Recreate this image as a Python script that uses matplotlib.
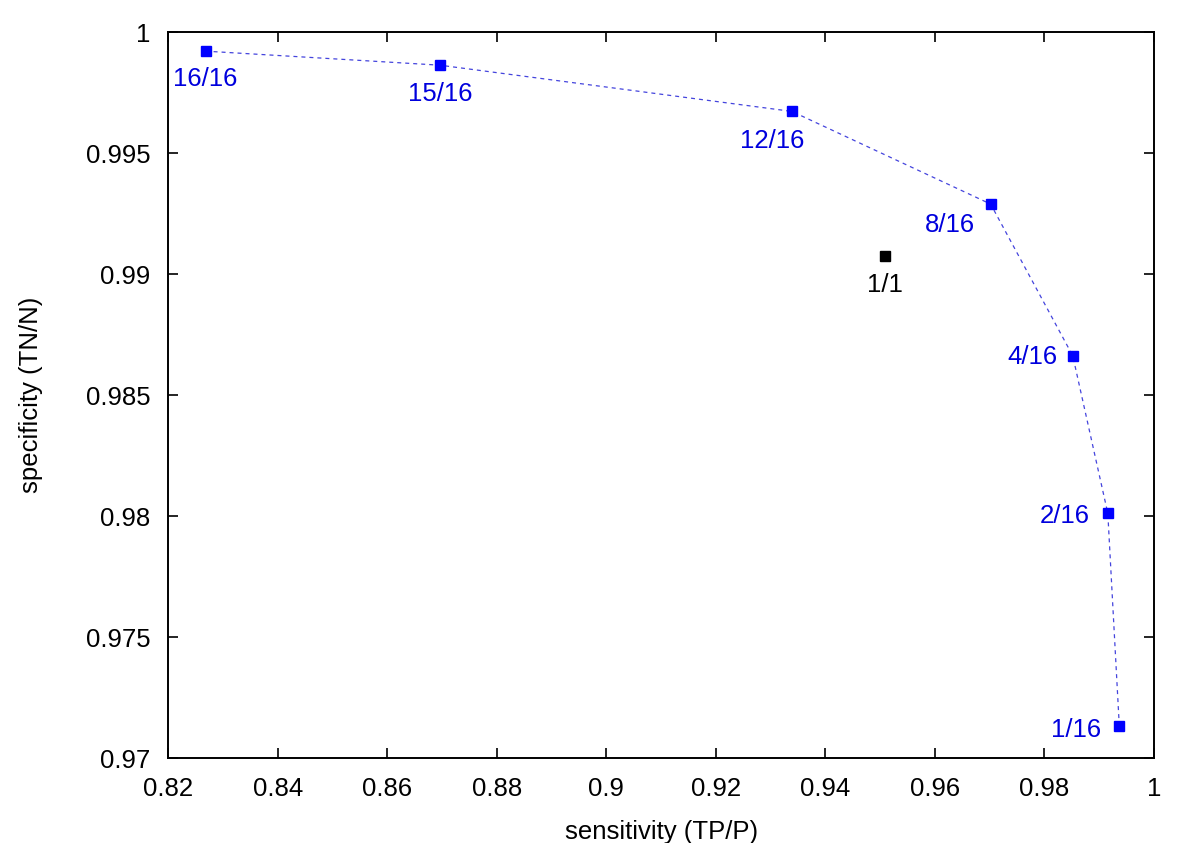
import matplotlib
matplotlib.use('Agg')
import matplotlib.pyplot as plt

plt.rcParams['font.family'] = ['Liberation Sans', 'DejaVu Sans']

# sensitivity / specificity for the sampling fractions
labels = ["16/16", "15/16", "12/16", "8/16", "4/16", "2/16", "1/16"]
sens = [0.8268, 0.8696, 0.9339, 0.9702, 0.9852, 0.9916, 0.9937]
spec = [0.99921, 0.99863, 0.99672, 0.99289, 0.98662, 0.98011, 0.97132]

# full run
ref_label = "1/1"
ref_sens = 0.9509
ref_spec = 0.99075

# label offsets in points (dx, dy, ha, va)
offsets = {
    "16/16": (0, -11.5, 'center', 'top'),
    "15/16": (0, -12, 'center', 'top'),
    "12/16": (-14.4, -12.5, 'center', 'top'),
    "8/16": (-11.5, -6.5, 'right', 'top'),
    "4/16": (-11.3, -1, 'right', 'center'),
    "2/16": (-12.7, -2, 'right', 'center'),
    "1/16": (-13.4, -2.5, 'right', 'center'),
}

FS = 18.5

fig = plt.figure(figsize=(12, 8.43), dpi=100)
ax = fig.add_axes([0.1403, 0.1008, 0.8212, 0.8612])

ax.plot(sens, spec, color='#4444dd', lw=0.9, ls=(0, (3.2, 3.2)), zorder=1)
ax.plot(sens, spec, 's', color='#0000ff', ms=7.2, ls='none', zorder=2)
ax.plot([ref_sens], [ref_spec], 's', color='black', ms=7.2, zorder=2)

for lab, x, y in zip(labels, sens, spec):
    dx, dy, ha, va = offsets[lab]
    ax.annotate(lab, (x, y), xytext=(dx, dy), textcoords='offset points',
                ha=ha, va=va, color='#0000dd', fontsize=FS)
ax.annotate(ref_label, (ref_sens, ref_spec), xytext=(0, -12), textcoords='offset points',
            ha='center', va='top', color='black', fontsize=FS)

ax.set_xlim(0.82, 1.0)
ax.set_ylim(0.97, 1.0)
ax.set_xticks([0.82, 0.84, 0.86, 0.88, 0.9, 0.92, 0.94, 0.96, 0.98, 1.0])
ax.set_xticklabels(["0.82", "0.84", "0.86", "0.88", "0.9", "0.92", "0.94", "0.96", "0.98", "1"])
ax.set_yticks([0.97, 0.975, 0.98, 0.985, 0.99, 0.995, 1.0])
ax.set_yticklabels(["0.97", "0.975", "0.98", "0.985", "0.99", "0.995", "1"])
ax.tick_params(direction='in', length=7.2, width=1.2, top=True, right=True,
               labelsize=FS, colors='black')
ax.tick_params(axis='x', pad=14)
ax.tick_params(axis='y', pad=13)
for s in ax.spines.values():
    s.set_linewidth(1.4)

ax.set_xlabel("sensitivity (TP/P)", fontsize=FS)
ax.set_ylabel("specificity (TN/N)", fontsize=FS)
ax.xaxis.set_label_coords(0.5, -0.085)
ax.yaxis.set_label_coords(-0.127, 0.5)

fig.savefig('out.png', dpi=100)
